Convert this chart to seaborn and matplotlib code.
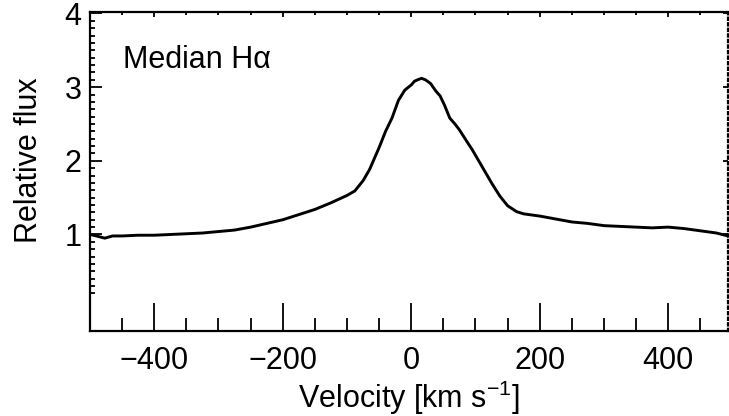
import numpy as np
import pandas as pd
import matplotlib
matplotlib.use("Agg")
import matplotlib.pyplot as plt
import seaborn as sns

# Data (velocity in km/s, relative flux)
velocity = [-500, -490, -477, -465, -450, -425, -400, -375, -350, -325, -300,
            -275, -250, -225, -200, -175, -150, -125, -100, -88, -75, -65,
            -50, -40, -30, -20, -10, 0, 5, 10, 16, 22, 30, 38, 45, 52, 60,
            68, 75, 86, 95, 105, 115, 125, 138, 150, 164, 175, 200, 225,
            250, 275, 300, 325, 350, 375, 400, 425, 450, 475, 493]
flux = [1.00, 0.98, 0.95, 0.98, 0.98, 0.99, 0.99, 1.00, 1.01, 1.02, 1.04,
        1.06, 1.10, 1.15, 1.20, 1.27, 1.34, 1.43, 1.53, 1.59, 1.73, 1.88,
        2.18, 2.40, 2.58, 2.82, 2.96, 3.03, 3.08, 3.10, 3.12, 3.10, 3.05,
        2.95, 2.88, 2.75, 2.58, 2.50, 2.42, 2.27, 2.15, 2.00, 1.85, 1.70,
        1.52, 1.39, 1.31, 1.28, 1.25, 1.21, 1.17, 1.15, 1.12, 1.11, 1.10,
        1.09, 1.10, 1.08, 1.05, 1.02, 0.98]

x_major = [-400, -200, 0, 200, 400]
x_minor = [-450, -350, -300, -250, -150, -100, -50, 50, 100, 150, 250, 300, 350, 450]
x_labels = ["\u2212400", "\u2212200", "0", "200", "400"]
y_major = [1, 2, 3, 4]
y_labels = ["1", "2", "3", "4"]
y_minor = [round(v, 1) for v in np.arange(0.2, 4.0, 0.1) if abs(v - round(v)) > 0.01]

sns.set_style("ticks")
plt.rcParams['font.family'] = ['Liberation Sans', 'DejaVu Sans']
plt.rcParams['mathtext.fontset'] = 'custom'
plt.rcParams['mathtext.rm'] = 'Liberation Sans'
plt.rcParams['mathtext.it'] = 'Liberation Sans:italic'
plt.rcParams['mathtext.default'] = 'regular'
for k in ['text.color', 'axes.labelcolor', 'xtick.color', 'ytick.color', 'axes.edgecolor']:
    plt.rcParams[k] = 'black'

df = pd.DataFrame({"Velocity": velocity, "Flux": flux})

fig = plt.figure(figsize=(7.29, 4.16), dpi=100)
ax = fig.add_axes([90 / 729, (416 - 331) / 416, (728 - 90) / 729, (331 - 12) / 416])
sns.lineplot(data=df, x="Velocity", y="Flux", ax=ax, color="black", linewidth=2.1,
             estimator=None, sort=False)

xlim = (-500, 493)
ylim = (-0.31, 4.02)
ax.set_xlim(*xlim)
ax.set_ylim(*ylim)

for s in ax.spines.values():
    s.set_linewidth(1.6)
    s.set_color("black")
ax.spines['right'].set_linestyle((0, (1, 1.5)))
ax.spines['right'].set_linewidth(1.6)

ax.set_xticks(x_major)
ax.set_xticks(x_minor, minor=True)
ax.set_xticklabels(x_labels)
ax.set_yticks(y_major)
ax.set_yticks(y_minor, minor=True)
ax.set_yticklabels(y_labels)
ax.tick_params(axis='x', which='major', direction='in', length=20, width=1.3,
               labelsize=22, pad=11, top=False, bottom=True, colors='black')
ax.tick_params(axis='x', which='minor', direction='in', length=9.5, width=1.3,
               top=False, bottom=True, colors='black')
ax.tick_params(axis='y', which='major', direction='in', length=8.6, width=1.3,
               labelsize=22, pad=6, left=True, right=False, colors='black')
ax.tick_params(axis='y', which='minor', direction='in', length=3.8, width=1.3,
               left=True, right=False, colors='black')

# top ticks
axt = ax.twiny()
axt.set_xlim(*xlim)
axt.set_xticks(x_major)
axt.set_xticks(x_minor, minor=True)
axt.tick_params(axis='x', which='major', direction='in', length=3.8, width=1.3,
                labeltop=False, top=True, colors='black')
axt.tick_params(axis='x', which='minor', direction='in', length=2.2, width=1.3,
                top=True, colors='black')
for s in axt.spines.values():
    s.set_visible(False)

# right ticks
axr = ax.twinx()
axr.set_ylim(*ylim)
axr.set_yticks(y_major)
axr.set_yticks([], minor=True)
axr.tick_params(axis='y', which='major', direction='in', length=3.8, width=1.3,
                labelright=False, right=True, colors='black')
for s in axr.spines.values():
    s.set_visible(False)

ax.set_xlabel("Velocity [km s$^{-1}$]", fontsize=22, labelpad=2, color='black')
ax.set_ylabel("Relative flux", fontsize=22, color='black')
ax.yaxis.set_label_coords(-0.072, 0.535)

ax.text(0.052, 0.85, "Median H\u03b1", transform=ax.transAxes, fontsize=22,
        ha='left', va='center', color='black')

fig.savefig("out.png", dpi=100)
